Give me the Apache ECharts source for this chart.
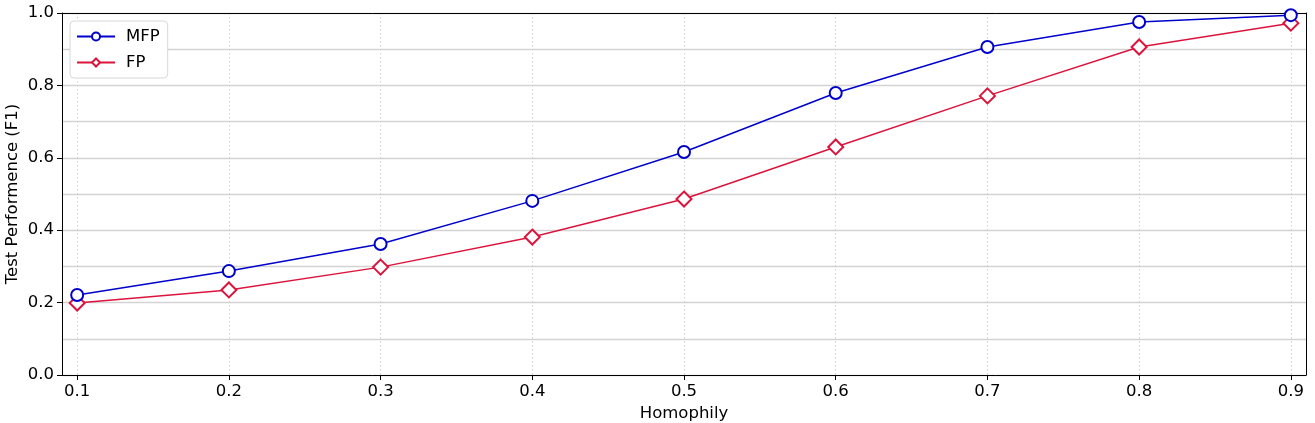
<!DOCTYPE html>
<html>
<head>
<meta charset="utf-8">
<script src="https://cdn.jsdelivr.net/npm/echarts@6/dist/echarts.min.js"></script>
<style>html,body{margin:0;padding:0;background:#fff}#c{width:1315px;height:423px}</style>
</head>
<body>
<div id="c"></div>
<script>
const homophily = [0.1, 0.2, 0.3, 0.4, 0.5, 0.6, 0.7, 0.8, 0.9];
const mfp = [0.221, 0.287, 0.362, 0.481, 0.616, 0.779, 0.906, 0.975, 0.994];
const fp  = [0.199, 0.235, 0.298, 0.381, 0.486, 0.630, 0.771, 0.906, 0.972];
const xTicks = [0.1, 0.2, 0.3, 0.4, 0.5, 0.6, 0.7, 0.8, 0.9];

const font = 'DejaVu Sans';
const fs = 16.5;
const chart = echarts.init(document.getElementById('c'));
chart.setOption({
  animation: false,
  textStyle: { fontFamily: font },
  grid: { left: 62, top: 13, right: 9, bottom: 48, outerBoundsMode: 'none', containLabel: false },
  legend: {
    left: 70, top: 21, orient: 'vertical',
    backgroundColor: '#fff', borderColor: '#d8d8d8', borderWidth: 1, borderRadius: 4,
    padding: [7, 8, 7, 6], itemGap: 9, itemWidth: 38, itemHeight: 10,
    textStyle: { fontFamily: font, fontSize: fs, color: '#000', padding: [0, 0, 0, 6] },
    data: ['MFP', 'FP']
  },
  xAxis: [{
    type: 'value', min: 0.09, max: 0.91,
    name: 'Homophily', nameLocation: 'middle', nameGap: 30, nameMoveOverlap: false,
    nameTextStyle: { fontFamily: font, fontSize: fs, color: '#000' },
    axisLine: { lineStyle: { color: '#000', width: 1 } },
    axisTick: { show: true, inside: false, length: 5, lineStyle: { color: '#000' }, customValues: xTicks },
    axisLabel: { fontFamily: font, fontSize: fs, color: '#000', margin: 8, customValues: xTicks, formatter: v => v.toFixed(1) },
    splitLine: { show: true, lineStyle: { color: '#d0d0d0', type: [1.5, 2.5], width: 1 } }
  }, {
    type: 'value', min: 0.09, max: 0.91, position: 'top',
    axisLine: { show: true, onZero: false, lineStyle: { color: '#000', width: 1 } },
    axisTick: { show: false }, axisLabel: { show: false }, splitLine: { show: false }
  }],
  yAxis: [{
    type: 'value', min: 0, max: 1, interval: 0.2,
    name: 'Test Performence (F1)', nameLocation: 'middle', nameGap: 41, nameMoveOverlap: false,
    nameTextStyle: { fontFamily: font, fontSize: fs, color: '#000' },
    axisLine: { show: true, lineStyle: { color: '#000', width: 1 } },
    axisTick: { show: true, inside: false, length: 5, lineStyle: { color: '#000' } },
    axisLabel: { fontFamily: font, fontSize: fs, color: '#000', margin: 8, formatter: v => v.toFixed(1) },
    splitLine: { show: true, lineStyle: { color: '#d3d3d3', width: 1.3 } },
    minorTick: { show: false, splitNumber: 2 },
    minorSplitLine: { show: true, lineStyle: { color: '#d3d3d3', width: 1.3 } }
  }, {
    type: 'value', min: 0, max: 1, position: 'right',
    axisLine: { show: true, onZero: false, lineStyle: { color: '#000', width: 1 } },
    axisTick: { show: false }, axisLabel: { show: false }, splitLine: { show: false }
  }],
  series: [
    {
      name: 'MFP', type: 'line',
      data: homophily.map((x, i) => [x, mfp[i]]),
      lineStyle: { color: '#0000cd', width: 1.5 },
      itemStyle: { color: '#fff', borderColor: '#0000cd', borderWidth: 2 },
      symbol: 'circle', symbolSize: 12, showAllSymbol: true, z: 3
    },
    {
      name: 'FP', type: 'line',
      data: homophily.map((x, i) => [x, fp[i]]),
      lineStyle: { color: '#dc143c', width: 1.5 },
      itemStyle: { color: '#fff', borderColor: '#dc143c', borderWidth: 2 },
      symbol: 'diamond', symbolSize: 15, showAllSymbol: true, z: 2
    }
  ]
});
</script>
</body>
</html>
